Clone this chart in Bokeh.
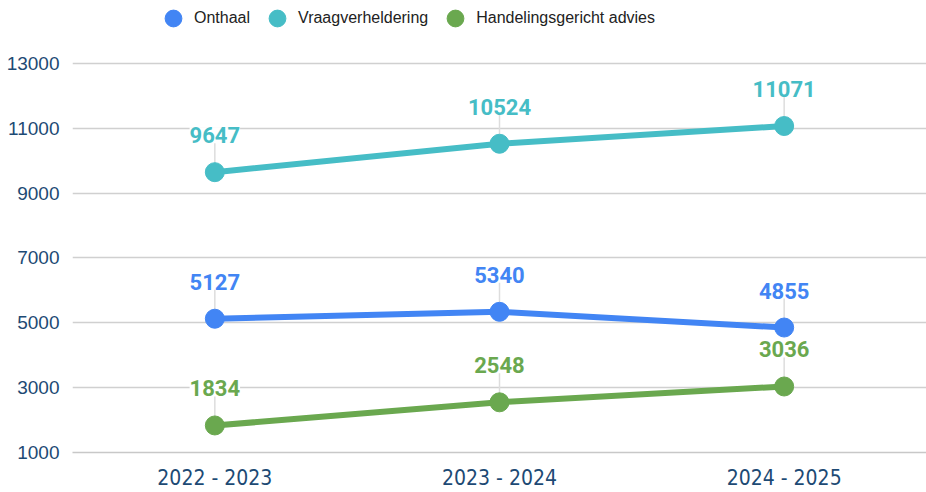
from bokeh.plotting import figure
from bokeh.models import ColumnDataSource, LabelSet, Legend, LegendItem, FixedTicker, Range1d
from bokeh.embed import file_html
from bokeh.resources import INLINE
from bokeh.core.properties import value

years = ["2022 - 2023", "2023 - 2024", "2024 - 2025"]
onthaal = [5127, 5340, 4855]
vraagverheldering = [9647, 10524, 11071]
handelingsgericht = [1834, 2548, 3036]
series_names = ["Onthaal", "Vraagverheldering", "Handelingsgericht advies"]
series_colors = ["#4285f4", "#46bdc6", "#6aa84f"]
y_ticks = [1000, 3000, 5000, 7000, 9000, 11000, 13000]

p = figure(x_range=years, y_range=Range1d(1000, 14943), width=926, height=492,
           output_backend="svg", toolbar_location=None,
           min_border_left=72, min_border_right=0, min_border_top=0, min_border_bottom=40)
p.outline_line_color = None
p.background_fill_color = "white"
p.border_fill_color = "white"

p.xgrid.grid_line_color = None
p.ygrid.grid_line_color = "#d0d0d0"
p.ygrid.grid_line_width = 1.5

p.yaxis.ticker = FixedTicker(ticks=y_ticks)
p.yaxis.axis_line_color = None
p.yaxis.major_tick_line_color = None
p.yaxis.minor_tick_line_color = None
p.yaxis.major_label_text_font = "Liberation Sans"
p.yaxis.major_label_text_font_size = "19px"
p.yaxis.major_label_text_color = "#1d4a74"
p.yaxis.major_label_standoff = 7

p.xaxis.axis_line_color = "#c8c8c8"
p.xaxis.axis_line_width = 1.5
p.xaxis.major_tick_line_color = None
p.xaxis.minor_tick_line_color = None
p.xaxis.major_label_text_font = "DejaVu Sans Condensed"
p.xaxis.major_label_text_font_size = "21px"
p.xaxis.major_label_text_color = "#1d4a74"
p.xaxis.major_label_standoff = 7

all_series = [onthaal, vraagverheldering, handelingsgericht]
items = []
lead = 1000  # leader line length in data units (style)
for name, vals, col in zip(series_names, all_series, series_colors):
    src = ColumnDataSource(dict(x=years, y=vals, y1=[v + lead for v in vals],
                                lbl=[str(v) for v in vals]))
    p.segment(x0="x", y0="y", x1="x", y1="y1", source=src, line_color="#dddddd", line_width=1.5)
    p.line(x="x", y="y", source=src, line_color=col, line_width=6)
    r = p.scatter(x="x", y="y", source=src, size=19, fill_color=col, line_color=col)
    items.append(LegendItem(label=name, renderers=[r]))
    labels = LabelSet(x="x", y="y", text="lbl", source=src, y_offset=37,
                      text_align="center", text_baseline="middle",
                      text_font=value("Roboto"), text_font_style="bold",
                      text_font_size="22px", text_color=col,
                      background_fill_color="white")
    p.add_layout(labels)

legend = Legend(items=items, orientation="horizontal", location=(80, 413),
                glyph_width=42, glyph_height=42, label_height=42, label_standoff=-5, spacing=6,
                padding=0, margin=0, border_line_color=None, background_fill_alpha=0,
                label_text_font="Liberation Sans", label_text_font_size="16px",
                label_text_color="#222222")
p.add_layout(legend, "center")

open("out.html", "w").write(file_html(p, INLINE))
